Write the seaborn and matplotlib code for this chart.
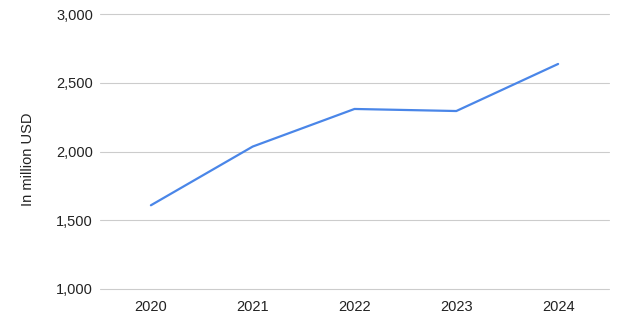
import matplotlib
matplotlib.use("Agg")
import matplotlib.pyplot as plt
import seaborn as sns
import pandas as pd
from matplotlib.ticker import FuncFormatter

years = ["2020", "2021", "2022", "2023", "2024"]
values = [1608, 2036, 2310, 2295, 2638]
yticks = [1000, 1500, 2000, 2500, 3000]

sns.set_theme(style="white")
plt.rcParams["font.family"] = ["Liberation Sans", "DejaVu Sans"]

df = pd.DataFrame({"year": years, "value": values})

fig = plt.figure(figsize=(6.26, 3.2), dpi=100)
ax = fig.add_axes([100/626, 1-288.7/320, (609-100)/626, (288.7-14.3)/320])

sns.lineplot(data=df, x="year", y="value", ax=ax, color="#4a86e8", linewidth=1.6, sort=False)

ax.set_ylim(1000, 3000)
ax.set_xlim(-0.5, len(years)-0.5)
ax.set_yticks(yticks)
ax.yaxis.set_major_formatter(FuncFormatter(lambda v, p: f"{int(v):,}"))
ax.grid(axis="y", color="#cccccc", linewidth=0.8)
for gl in ax.get_ygridlines():
    gl.set_clip_on(False)
ax.set_axisbelow(True)
for s in ax.spines.values():
    s.set_visible(False)
ax.tick_params(axis="both", length=0, labelsize=10.5, colors="#222222")
ax.tick_params(axis="y", pad=5)
ax.tick_params(axis="x", pad=8)
ax.set_xlabel("")
ax.set_ylabel("In million USD", fontsize=10.5, color="#222222")
ax.yaxis.set_label_coords(-0.128, 0.473)

fig.savefig("out.png", dpi=100)
